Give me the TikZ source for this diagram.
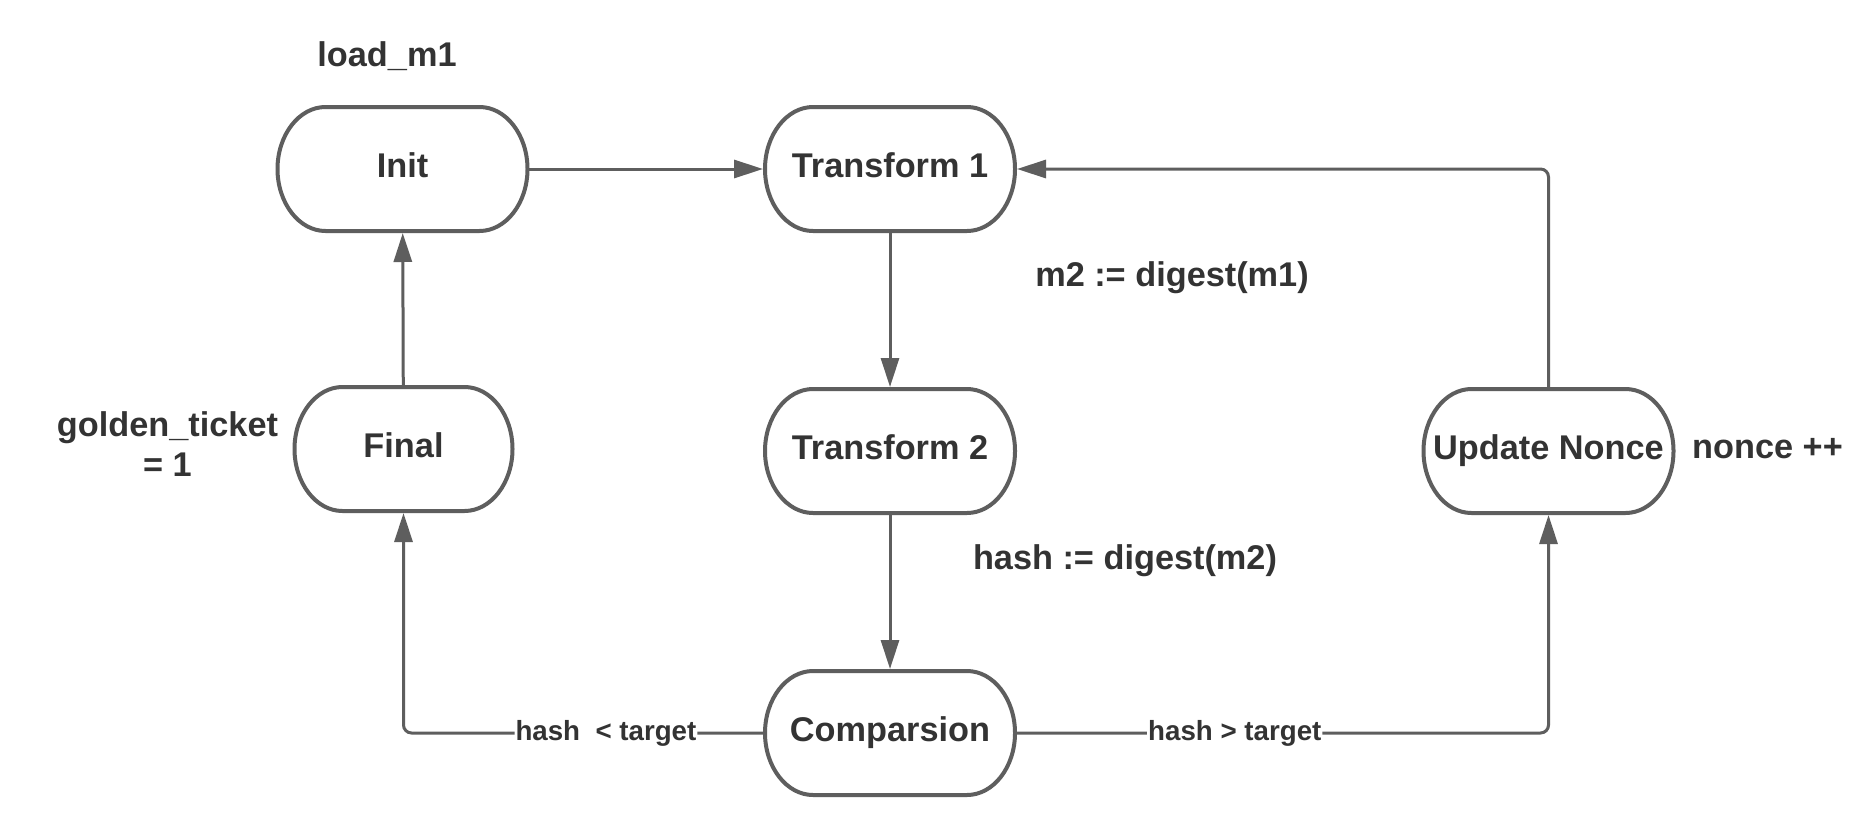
\documentclass[tikz,border=0pt]{standalone}
\usepackage{fontspec}
\setmainfont{Liberation Sans}
\usetikzlibrary{arrows.meta,calc}
\definecolor{lncol}{HTML}{5E5E5E}
\definecolor{txtcol}{HTML}{333333}
\newcommand\mystadium[1]{%
  \draw[boxline] ([xshift=48pt]#1.north west) -- ([xshift=-48pt]#1.north east)
    .. controls ([xshift=-21.5pt]#1.north east) and ([yshift=-28pt]#1.north east) .. (#1.east)
    .. controls ([yshift=28pt]#1.south east) and ([xshift=-21.5pt]#1.south east) .. ([xshift=-48pt]#1.south east)
    -- ([xshift=48pt]#1.south west)
    .. controls ([xshift=21.5pt]#1.south west) and ([yshift=28pt]#1.south west) .. (#1.west)
    .. controls ([yshift=-28pt]#1.north west) and ([xshift=21.5pt]#1.north west) .. cycle;}
\tikzset{
  boxline/.style={draw=lncol, line width=4pt},
  stage/.style={rectangle, draw=none, outer sep=0pt, inner sep=0pt,
    minimum width=250pt, minimum height=124pt, text=txtcol,
    font=\fontsize{34.3pt}{40pt}\selectfont\bfseries, text height=25pt, text depth=9pt},
  note/.style={text=txtcol, inner sep=0pt, align=center,
    font=\fontsize{34.3pt}{40pt}\selectfont\bfseries},
  conn/.style={draw=lncol, line width=3pt, -{Triangle[length=29pt,width=18pt]}, shorten >=2pt},
  elab/.style={fill=white, text=txtcol, inner sep=1pt,
    font=\fontsize{27.7pt}{32pt}\selectfont\bfseries}
}
\begin{document}
\begin{tikzpicture}[x=1pt,y=-1pt]
\useasboundingbox[fill=white] (0,0) rectangle (1870,819);
% stages
\node[stage] (init) at (402.5,169) {Init};
\node[stage] (t1) at (890,169) {Transform 1};
\node[stage, minimum width=218pt] (final) at (403.5,449) {Final};
\node[stage] (t2) at (890,451) {Transform 2};
\node[stage] (upd) at (1548.5,451) {Update Nonce};
\node[stage] (cmp) at (890,733) {Comparsion};
\mystadium{init}
\mystadium{t1}
\mystadium{final}
\mystadium{t2}
\mystadium{upd}
\mystadium{cmp}
% notes
\node[note] (load) at (387,56) {load\_m1};
\node[note] (m2) at (1172,278) {m2 := digest(m1)};
\node[note] (hsh) at (1125,561) {hash := digest(m2)};
\node[note] (golden) at (167.5,444) {golden\_ticket\\= 1};
\node[note] (nonce) at (1767.5,449) {nonce ++};
% connectors
\draw[conn] (init) -- (t1);
\draw[conn] (t1) -- (t2);
\draw[conn] (t2) -- (cmp);
\draw[conn] (final) -- (init);
\draw[conn, rounded corners=8pt] (cmp.west) -| node[elab, pos=0.22] (lt) {hash\ \ < target} (final.south);
\draw[conn, rounded corners=8pt] (cmp.east) -| node[elab, pos=0.206] (gt) {hash > target} (upd.south);
\draw[conn, rounded corners=8pt] (upd.north) |- (t1.east);
\end{tikzpicture}
\end{document}
